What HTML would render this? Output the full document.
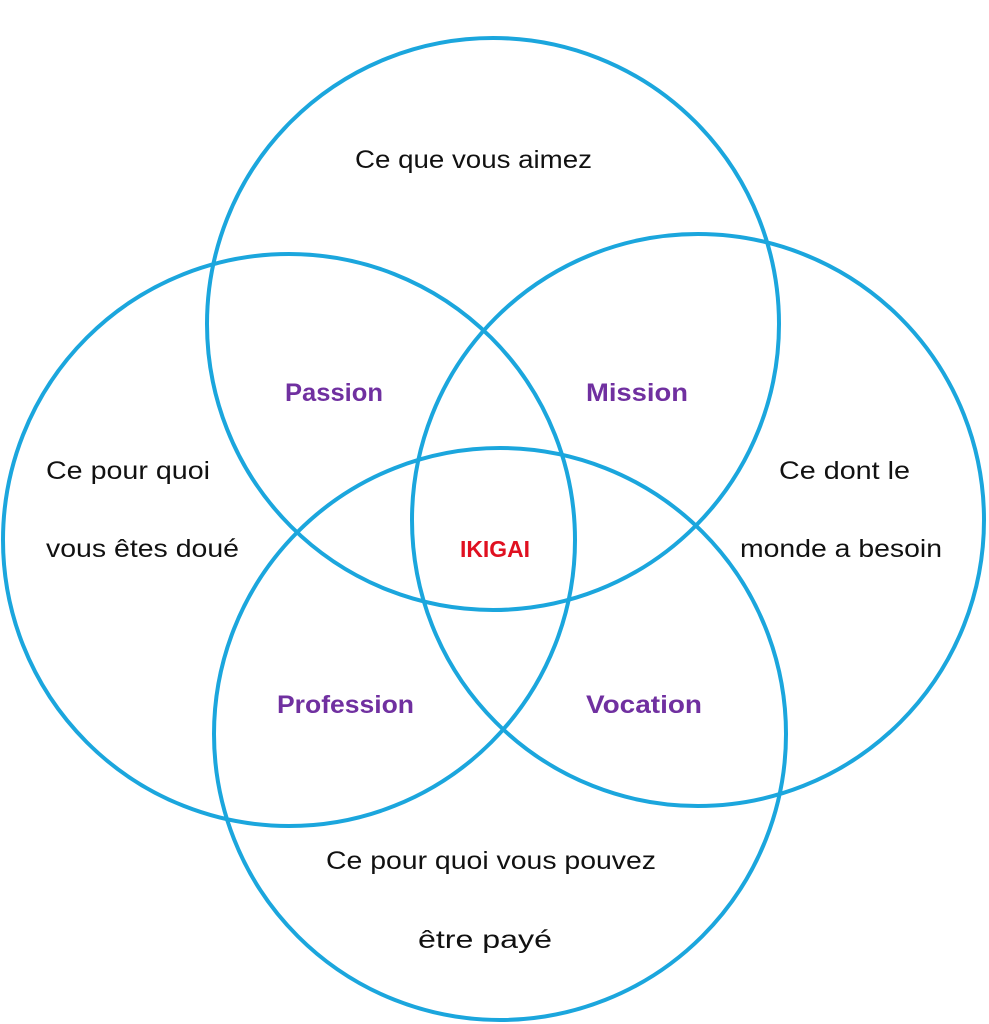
<!DOCTYPE html>
<html><head><meta charset="utf-8"><style>html,body{margin:0;padding:0;background:#fff}svg{display:block}</style></head>
<body>
<svg width="989" height="1024" viewBox="0 0 989 1024" xmlns="http://www.w3.org/2000/svg">
<g fill="none" stroke="#1ba6dd" stroke-width="4">
<circle cx="493" cy="324" r="286"/>
<circle cx="289" cy="540" r="286"/>
<circle cx="698" cy="520" r="286"/>
<circle cx="500" cy="734" r="286"/>
</g>
<g font-family="Liberation Sans, sans-serif" font-size="25" fill="#111">
<text x="355" y="168" textLength="237" lengthAdjust="spacingAndGlyphs">Ce que vous aimez</text>
<text x="46" y="479" textLength="164" lengthAdjust="spacingAndGlyphs">Ce pour quoi</text>
<text x="46" y="557" textLength="193" lengthAdjust="spacingAndGlyphs">vous êtes doué</text>
<text x="779" y="479" textLength="131" lengthAdjust="spacingAndGlyphs">Ce dont le</text>
<text x="740" y="557" textLength="202" lengthAdjust="spacingAndGlyphs">monde a besoin</text>
<text x="326" y="869" textLength="330" lengthAdjust="spacingAndGlyphs">Ce pour quoi vous pouvez</text>
<text x="418" y="948" textLength="134" lengthAdjust="spacingAndGlyphs">être payé</text>
</g>
<g font-family="Liberation Sans, sans-serif" font-size="25" font-weight="bold" fill="#7030a0">
<text x="285" y="401" textLength="98" lengthAdjust="spacingAndGlyphs">Passion</text>
<text x="586" y="401" textLength="102" lengthAdjust="spacingAndGlyphs">Mission</text>
<text x="277" y="713" textLength="137" lengthAdjust="spacingAndGlyphs">Profession</text>
<text x="586" y="713" textLength="116" lengthAdjust="spacingAndGlyphs">Vocation</text>
</g>
<text x="460" y="557" font-family="Liberation Sans, sans-serif" font-size="23" font-weight="bold" fill="#e01020" textLength="70" lengthAdjust="spacingAndGlyphs">IKIGAI</text>
</svg>
</body></html>
